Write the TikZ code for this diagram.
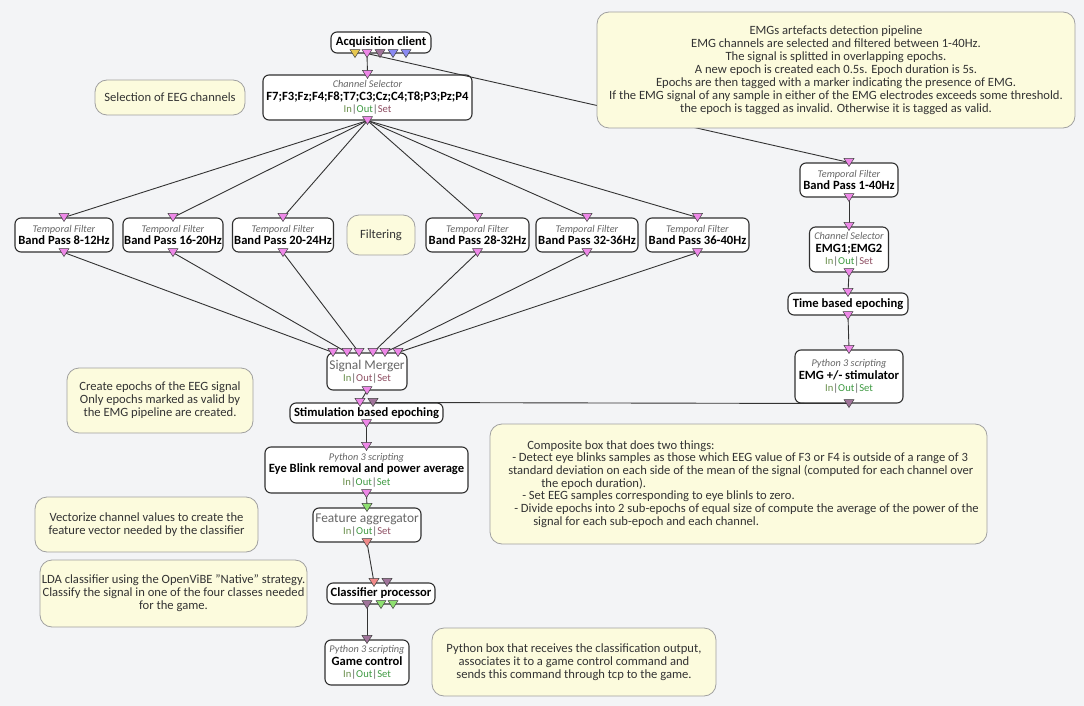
\documentclass[tikz,border=0pt]{standalone}
\usepackage{fontspec}
\setmainfont{Carlito}
\usetikzlibrary{calc}
\definecolor{bg}{HTML}{F3F4F6}
\definecolor{cmtfill}{HTML}{FCFBDD}
\definecolor{cmtdraw}{HTML}{A0A0A0}
\definecolor{boxdraw}{HTML}{303030}
\definecolor{linec}{HTML}{333333}
\definecolor{pinkc}{HTML}{EE88E8}
\definecolor{mauvec}{HTML}{A0749A}
\definecolor{yellc}{HTML}{E8C850}
\definecolor{bluec}{HTML}{8A8AF2}
\definecolor{greenc}{HTML}{8EE070}
\definecolor{salmc}{HTML}{F08A8A}
\definecolor{inC}{HTML}{6A8F4C}
\definecolor{outG}{HTML}{3E9A42}
\definecolor{setR}{HTML}{8E4E62}
\definecolor{catc}{HTML}{666666}
\definecolor{sepc}{HTML}{555555}
\newcommand\cat[1]{{\fontsize{10.3}{12.5}\selectfont\itshape\color{catc}#1}}
\newcommand\ttl[1]{{\bfseries #1}}
\newcommand\plain[1]{{\fontsize{13.4}{12.5}\selectfont\color{catc}#1}}
\newcommand\iol[3]{{\fontsize{10.6}{12.5}\selectfont\textcolor{#1}{In}\textcolor{sepc}{|}\textcolor{#2}{Out}\textcolor{sepc}{|}\textcolor{#3}{Set}}}
\newcommand\tri[2]{\filldraw[fill=#2,draw=black!75,line width=0.5pt] ($#1+(-5,-4)$) -- ($#1+(5,-4)$) -- ($#1+(0,4)$) -- cycle;}
\begin{document}
\begin{tikzpicture}[x=1pt,y=-1pt,
  box/.style={draw=boxdraw, fill=white, rounded corners=6pt, line width=1.1pt, inner sep=0pt, align=center, font=\fontsize{12.6}{12.5}\selectfont},
  cmt/.style={draw=cmtdraw, fill=cmtfill, rounded corners=12pt, line width=0.8pt, inner sep=0pt, align=center, text=black!80, font=\fontsize{12.6}{13}\selectfont},
  link/.style={draw=linec, line width=0.9pt}]
\fill[bg] (0,0) rectangle (1084,706);
\useasboundingbox (0,0) rectangle (1084,706);

% ---- boxes ----
\node[box, minimum width=100pt, minimum height=21pt] (acq) at (381,42.5) {\ttl{Acquisition client}};
\node[box, minimum width=209pt, minimum height=45pt] (cs) at (367.5,97.5) {\cat{Channel Selector}\\\ttl{F7;F3;Fz;F4;F8;T7;C3;Cz;C4;T8;P3;Pz;P4}\\\iol{inC}{outG}{setR}};

\node[box, minimum width=98pt, minimum height=34pt] (f1) at (64,235) {\cat{Temporal Filter}\\\ttl{Band Pass 8-12Hz}};
\node[box, minimum width=100pt, minimum height=34pt] (f2) at (173,235) {\cat{Temporal Filter}\\\ttl{Band Pass 16-20Hz}};
\node[box, minimum width=101pt, minimum height=34pt] (f3) at (283,235) {\cat{Temporal Filter}\\\ttl{Band Pass 20-24Hz}};
\node[box, minimum width=103pt, minimum height=34pt] (f4) at (477.5,235) {\cat{Temporal Filter}\\\ttl{Band Pass 28-32Hz}};
\node[box, minimum width=102pt, minimum height=34pt] (f5) at (587,235) {\cat{Temporal Filter}\\\ttl{Band Pass 32-36Hz}};
\node[box, minimum width=103pt, minimum height=34pt] (f6) at (697.5,235) {\cat{Temporal Filter}\\\ttl{Band Pass 36-40Hz}};

\node[box, minimum width=98pt, minimum height=34pt] (fe) at (849,180) {\cat{Temporal Filter}\\\ttl{Band Pass 1-40Hz}};
\node[box, minimum width=79pt, minimum height=45pt] (ce) at (849,249.5) {\cat{Channel Selector}\\\ttl{EMG1;EMG2}\\\iol{inC}{outG}{setR}};
\node[box, minimum width=120pt, minimum height=22pt] (tbe) at (848,304) {\ttl{Time based epoching}};
\node[box, minimum width=108pt, minimum height=53pt] (stim) at (849,376.5) {\cat{Python 3 scripting}\\\ttl{EMG +/- stimulator}\\\iol{inC}{outG}{outG}};

\node[box, minimum width=80pt, minimum height=37pt] (sm) at (367,371.5) {\plain{Signal Merger}\\\iol{inC}{setR}{setR}};
\node[box, minimum width=153pt, minimum height=20pt] (sbe) at (366.5,413) {\ttl{Stimulation based epoching}};
\node[box, minimum width=203pt, minimum height=46pt] (eb) at (366.5,470) {\cat{Python 3 scripting}\\\ttl{Eye Blink removal and power average}\\\iol{inC}{outG}{outG}};
\node[box, minimum width=108pt, minimum height=34pt] (fa) at (367,525) {\plain{Feature aggregator}\\\iol{inC}{outG}{setR}};
\node[box, minimum width=108pt, minimum height=21pt] (cp) at (381,593.5) {\ttl{Classifier processor}};
\node[box, minimum width=84pt, minimum height=45pt] (gc) at (367,662.5) {\cat{Python 3 scripting}\\\ttl{Game control}\\\iol{inC}{outG}{outG}};

% ---- connector end points ----
\coordinate (acq-o1) at ($(acq.south)+(-26,0)$);
\coordinate (acq-o2) at ($(acq.south)+(-14,0)$);
\coordinate (acq-o3) at ($(acq.south)+(-1,0)$);
\coordinate (acq-o4) at ($(acq.south)+(12,0)$);
\coordinate (acq-o5) at ($(acq.south)+(25,0)$);
\coordinate (cs-i) at (cs.north);
\coordinate (cs-o) at (cs.south);
\foreach \n in {f1,f2,f3,f4,f5,f6,fe,ce,tbe,eb,gc}{
  \coordinate (\n-i) at (\n.north);
}
\foreach \n in {f1,f2,f3,f4,f5,f6,fe,ce,tbe,stim,sm,sbe,eb,fa}{
  \coordinate (\n-o) at (\n.south);
}
\coordinate (stim-i) at (stim.north);
\coordinate (fa-i) at (fa.north);
\coordinate (sm-i1) at ($(sm.north)+(-34,0)$);
\coordinate (sm-i2) at ($(sm.north)+(-20,0)$);
\coordinate (sm-i3) at ($(sm.north)+(-8,0)$);
\coordinate (sm-i4) at ($(sm.north)+(6,0)$);
\coordinate (sm-i5) at ($(sm.north)+(18,0)$);
\coordinate (sm-i6) at ($(sm.north)+(31,0)$);
\coordinate (sbe-i1) at ($(sbe.north)+(-6.5,0)$);
\coordinate (sbe-i2) at ($(sbe.north)+(6.5,0)$);
\coordinate (cp-i1) at ($(cp.north)+(-7,0)$);
\coordinate (cp-i2) at ($(cp.north)+(6,0)$);
\coordinate (cp-o1) at ($(cp.south)+(-14,0)$);
\coordinate (cp-o2) at ($(cp.south)+(0,0)$);
\coordinate (cp-o3) at ($(cp.south)+(12,0)$);

% ---- links ----
\draw[link] (acq-o2) -- (cs-i);
\draw[link] (acq-o2) -- (fe-i);
\foreach \n in {f1,f2,f3,f4,f5,f6}{\draw[link] (cs-o) -- (\n-i);}
\draw[link] (f1-o) -- (sm-i1);
\draw[link] (f2-o) -- (sm-i2);
\draw[link] (f3-o) -- (sm-i3);
\draw[link] (f4-o) -- (sm-i4);
\draw[link] (f5-o) -- (sm-i5);
\draw[link] (f6-o) -- (sm-i6);
\draw[link] (fe-o) -- (ce-i);
\draw[link] (ce-o) -- (tbe-i);
\draw[link] (tbe-o) -- (stim-i);
\draw[link] (sm-o) -- (sbe-i1);
\draw[link] (stim-o) -- (sbe-i2);
\draw[link] (sbe-o) -- (eb-i);
\draw[link] (eb-o) -- (fa-i);
\draw[link] (fa-o) -- (cp-i1);
\draw[link] (cp-o1) -- (gc-i);

% ---- connector triangles ----
\tri{(acq-o1)}{yellc}\tri{(acq-o2)}{pinkc}\tri{(acq-o3)}{mauvec}\tri{(acq-o4)}{bluec}\tri{(acq-o5)}{bluec}
\tri{(cs-i)}{pinkc}\tri{(cs-o)}{pinkc}
\foreach \n in {f1,f2,f3,f4,f5,f6,fe,ce,tbe}{\tri{(\n-i)}{pinkc}\tri{(\n-o)}{pinkc}}
\tri{(stim-i)}{pinkc}\tri{(stim-o)}{mauvec}
\foreach \k in {1,...,6}{\tri{(sm-i\k)}{pinkc}}
\tri{(sm-o)}{pinkc}
\tri{(sbe-i1)}{pinkc}\tri{(sbe-i2)}{mauvec}\tri{(sbe-o)}{pinkc}
\tri{(eb-i)}{pinkc}\tri{(eb-o)}{pinkc}
\tri{(fa-i)}{greenc}\tri{(fa-o)}{salmc}
\tri{(cp-i1)}{salmc}\tri{(cp-i2)}{mauvec}
\tri{(cp-o1)}{mauvec}\tri{(cp-o2)}{greenc}\tri{(cp-o3)}{greenc}
\tri{(gc-i)}{mauvec}

% ---- comments ----
\node[cmt, minimum width=150pt, minimum height=35pt] (c1) at (170,97.5) {Selection of EEG channels};
\node[cmt, minimum width=478pt, minimum height=116pt] (c2) at (836,70) {EMGs artefacts detection pipeline\\EMG channels are selected and filtered between 1-40Hz.\\The signal is splitted in overlapping epochs.\\A new epoch is created each 0.5s. Epoch duration is 5s.\\Epochs are then tagged with a marker indicating the presence of EMG.\\If the EMG signal of any sample in either of the EMG electrodes exceeds some threshold.\\the epoch is tagged as invalid. Otherwise it is tagged as valid.};
\node[cmt, minimum width=68pt, minimum height=40pt] (c3) at (381,235) {Filtering};
\node[cmt, minimum width=186pt, minimum height=65pt] (c4) at (160,400.5) {Create epochs of the EEG signal\\Only epochs marked as valid by\\the EMG pipeline are created.};
\node[cmt, minimum width=497pt, minimum height=120pt, align=left, font=\fontsize{12.6}{12.7}\selectfont] (c5) at (738.5,484) {\hspace*{29pt}Composite box that does two things:\\\hspace*{14pt}- Detect eye blinks samples as those which EEG value of F3 or F4 is outside of a range of 3\\\hspace*{10pt}standard deviation on each side of the mean of the signal (computed for each channel over\\\hspace*{43pt}the epoch duration).\\\hspace*{24pt}- Set EEG samples corresponding to eye blinls to zero.\\\hspace*{16pt}- Divide epochs into 2 sub-epochs of equal size of compute the average of the power of the\\\hspace*{35pt}signal for each sub-epoch and each channel.};
\node[cmt, minimum width=223pt, minimum height=55pt] (c6) at (146.5,524.5) {Vectorize channel values to create the\\feature vector needed by the classifier};
\node[cmt, minimum width=267pt, minimum height=67pt] (c7) at (173.5,593.5) {LDA classifier using the OpenViBE "Native" strategy.\\Classify the signal in one of the four classes needed\\for the game.};
\node[cmt, minimum width=284pt, minimum height=68pt] (c8) at (574,662) {Python box that receives the classification output,\\associates it to a game control command and\\sends this command through tcp to the game.};
\end{tikzpicture}
\end{document}
